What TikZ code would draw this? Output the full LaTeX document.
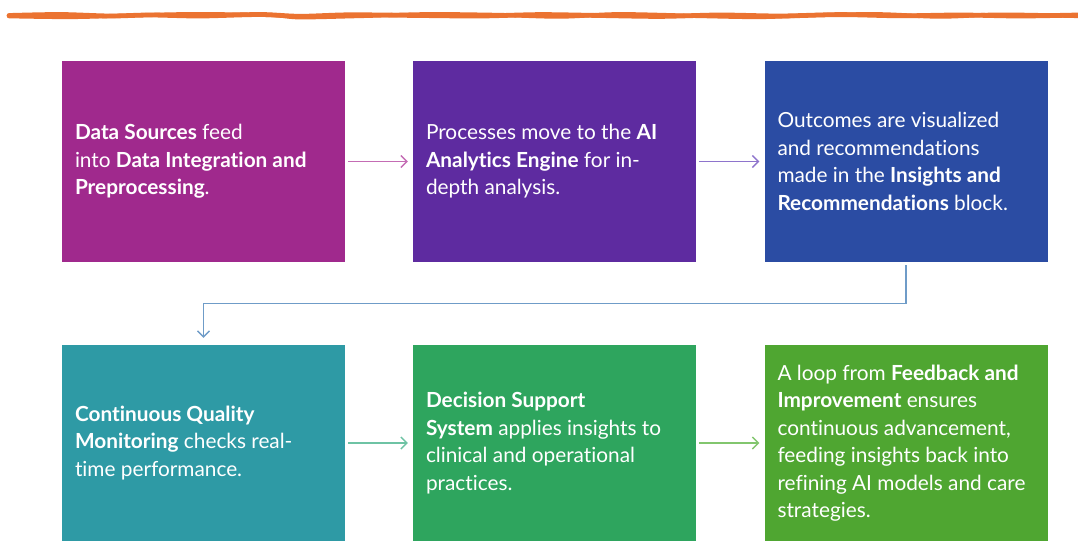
\documentclass[tikz,border=0pt]{standalone}
\usepackage{fontspec}
\setmainfont{Lato}[Ligatures={NoCommon}]
\usetikzlibrary{arrows.meta}

\definecolor{cMagenta}{HTML}{A0298D}
\definecolor{cViolet}{HTML}{5E2BA0}
\definecolor{cBlue}{HTML}{2B4CA3}
\definecolor{cTeal}{HTML}{2E9AA5}
\definecolor{cGreen}{HTML}{2EA55E}
\definecolor{cLime}{HTML}{4FA631}
\definecolor{cOrange}{HTML}{EB7331}
\definecolor{aMagenta}{HTML}{C46CB4}
\definecolor{aViolet}{HTML}{8E74CC}
\definecolor{aSteel}{HTML}{6F9CC8}
\definecolor{aTeal}{HTML}{6EC3A4}
\definecolor{aGreen}{HTML}{82C66E}

\tikzset{
  card/.style={fill=#1, draw=none, text=white, minimum width=283pt,
    text width=257pt, inner xsep=13pt, inner ysep=0pt, align=flush left,
    font=\fontsize{20.8pt}{27.5pt}\selectfont},
  topcard/.style={card=#1, minimum height=201pt},
  lowcard/.style={card=#1, minimum height=196pt},
  flow/.style={draw=#1, line width=1.4pt,
    -{Straight Barb[length=6pt,width=12pt,line width=1.4pt]}},
  brush/.style={draw=cOrange, line width=4.8pt, line cap=round, line join=round}
}

\begin{document}
\begin{tikzpicture}[x=1pt,y=-1pt]
\useasboundingbox (0,0) rectangle (1078,541);

% hand-drawn orange rule across the top
\draw[brush] plot[smooth] coordinates {(9,15.5) (60,14.5) (110,16) (150,15) (200,16) (260,14.5) (300,16.3) (350,14.8) (420,15.5) (480,16) (540,14.6) (600,15.5) (660,16.4) (720,15) (780,16) (840,14.6) (900,15.8) (960,15) (1020,16) (1078,15)};
\draw[brush, line width=4.2pt] plot[smooth] coordinates {(9,16.2) (70,17) (130,15.5) (190,14.2) (270,15) (300,17.3) (360,16) (430,14.2) (500,15) (560,16.6) (620,14.2) (700,16) (760,17) (820,15) (880,14.3) (940,16.6) (1000,14.6) (1078,16)};

% upper row
\node[topcard=cMagenta] (s1) at (203.5,161.5)
  {\textbf{Data Sources} feed\\ into \textbf{Data Integration and}\\ \textbf{Preprocessing}.};
\node[topcard=cViolet] (s2) at (554.5,161.5)
  {Processes move to the \textbf{AI}\\ \textbf{Analytics Engine} for in-\\ depth analysis.};
\node[topcard=cBlue] (s3) at (906,161.5)
  {Outcomes are visualized\\ and recommendations\\ made in the \textbf{Insights and}\\ \textbf{Recommendations} block.};

% lower row
\node[lowcard=cTeal] (s4) at (203.5,443)
  {\textbf{Continuous Quality}\\ \textbf{Monitoring} checks real-\\ time performance.};
\node[lowcard=cGreen] (s5) at (554.5,443)
  {\textbf{Decision Support}\\ \textbf{System} applies insights to\\ clinical and operational\\ practices.};
\node[lowcard=cLime] (s6) at (906,443)
  {A loop from \textbf{Feedback and}\\ \textbf{Improvement} ensures\\ continuous advancement,\\ feeding insights back into\\ refining AI models and care\\ strategies.};

% connectors
\draw[flow=aMagenta] ([xshift=3pt]s1.east) -- ([xshift=-5pt]s2.west);
\draw[flow=aViolet] ([xshift=3pt]s2.east) -- ([xshift=-5pt]s3.west);
\draw[flow=aSteel, line join=miter] ([yshift=-3pt]s3.south) -- ++(0,-38pt) -| ([yshift=7pt]s4.north);
\draw[flow=aTeal] ([xshift=3pt]s4.east) -- ([xshift=-5pt]s5.west);
\draw[flow=aGreen] ([xshift=3pt]s5.east) -- ([xshift=-5pt]s6.west);
\end{tikzpicture}
\end{document}
